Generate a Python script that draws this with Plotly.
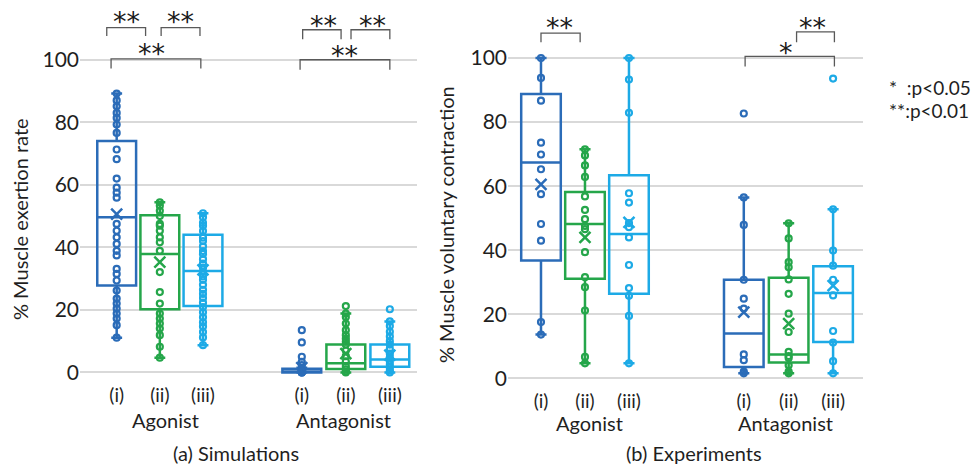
import plotly.graph_objects as go

# ---------------- data ----------------
sub_labels = ["(i)", "(ii)", "(iii)", "(i)", "(ii)", "(iii)"]
group_labels = ["Agonist", "Antagonist"]
sim_pos = [0, 1, 2, 4.29, 5.31, 6.33]
exp_pos = [0, 1, 2, 4.61, 5.63, 6.64]

# (a) Simulations - individual values
sim_ago_i = [89.2, 87.0, 85.1, 83.0, 81.4, 79.3, 76.6, 71.3, 68.2, 62.0, 59.1, 57.5, 55.9,
             47.5, 45.3, 43.2, 41.1, 38.9, 37.4, 33.1, 31.5, 29.4, 26.2, 23.6, 22.0, 20.4,
             18.8, 17.2, 15.1, 11.1]
sim_ago_ii = [54.4, 53.3, 51.7, 50.0, 47.5, 46.9, 45.3, 43.2, 41.6, 38.9, 32.1, 25.7, 22.0,
              18.8, 17.2, 15.6, 14.0, 11.9, 8.2, 4.7]
sim_ago_iii = [50.9, 49.6, 47.8, 46.9, 45.2, 43.1, 42.0, 40.3, 38.8, 37.9, 36.2, 34.8, 33.5,
               32.1, 30.7, 29.6, 28.0, 26.4, 25.1, 23.8, 22.3, 20.9, 19.2, 17.6, 16.0, 14.7,
               12.9, 11.2, 8.7]
sim_ant_i = [13.5, 9.6, 5.0, 3.4, 2.3, 1.2, 0.6, 0.0, 0.0, 0.0]
sim_ant_ii = [21.2, 18.8, 17.7, 15.6, 13.5, 11.9, 10.8, 9.8, 8.9, 7.0, 5.2, 3.5, 2.0, 1.0, 0.3, 0.0]
sim_ant_iii = [20.2, 16.3, 14.8, 13.0, 11.5, 10.0, 8.9, 7.5, 6.0, 4.8, 3.6, 2.5, 1.5, 0.6, 0.0]

# (a) Simulations - box statistics
sim_low = [11.1, 4.7, 8.7, 0.0, 0.0, 0.0]
sim_q1 = [27.8, 20.2, 21.2, 0.0, 1.1, 1.8]
sim_median = [49.6, 37.9, 32.4, 0.3, 2.9, 4.1]
sim_q3 = [74.0, 50.3, 44.0, 1.2, 8.9, 8.9]
sim_high = [89.2, 54.4, 50.9, 1.5, 18.8, 16.3]
sim_mean = [50.6, 35.3, 32.8, 1.5, 6.0, 5.5]

# (b) Experiments - individual values
exp_ago_i = [100.0, 93.8, 86.7, 73.6, 69.9, 65.3, 57.5, 48.2, 43.0, 17.6, 13.7]
exp_ago_ii = [71.5, 69.6, 66.5, 62.9, 56.8, 52.6, 49.7, 47.6, 46.6, 39.4, 31.6, 28.5, 21.2, 6.7, 4.7]
exp_ago_iii = [100.0, 93.3, 82.9, 57.8, 54.9, 48.5, 47.2, 44.0, 35.4, 28.2, 25.8, 19.5, 4.7]
exp_ant_i = [82.7, 56.5, 47.9, 30.8, 24.9, 21.8, 7.5, 5.7, 2.1, 1.6]
exp_ant_ii = [48.4, 43.7, 36.3, 34.7, 30.9, 26.4, 20.2, 14.5, 8.3, 7.0, 6.4, 4.1, 2.1, 1.6]
exp_ant_iii = [93.6, 52.8, 39.9, 35.2, 30.8, 25.9, 14.8, 11.2, 5.4, 1.6]

# (b) Experiments - box statistics
exp_low = [13.7, 4.7, 4.7, 1.6, 1.6, 1.6]
exp_q1 = [36.8, 31.1, 26.4, 3.6, 5.0, 11.4]
exp_median = [67.4, 48.2, 45.1, 14.0, 7.5, 26.7]
exp_q3 = [88.8, 58.2, 63.4, 30.8, 31.4, 35.0]
exp_high = [100.0, 71.5, 100.0, 56.5, 48.4, 52.8]
exp_mean = [60.6, 44.0, 48.7, 20.7, 17.1, 29.0]

y_ticks = [0, 20, 40, 60, 80, 100]

# ---------------- styling ----------------
colors = ["#2B6CB8", "#25A64A", "#1DAAE6"]
FONT = "Lato"
TXT = "#1f1f1f"
W, H = 979, 469
BW = 0.9

fig = go.Figure()


def add_panel(positions, series, low, q1, med, q3, high, mean, xa, ya):
    for k, pos in enumerate(positions):
        c = colors[k % 3]
        fig.add_trace(go.Box(
            x=[pos], q1=[q1[k]], median=[med[k]], q3=[q3[k]],
            lowerfence=[low[k]], upperfence=[high[k]],
            width=BW, whiskerwidth=0.28, boxpoints=False,
            line=dict(color=c, width=2.5), fillcolor="rgba(0,0,0,0)",
            xaxis=xa, yaxis=ya, showlegend=False, hoverinfo="skip"))
        pts = series[k]
        fig.add_trace(go.Scatter(
            x=[pos] * len(pts), y=pts, mode="markers",
            marker=dict(symbol="circle-open", size=6, color=c, line=dict(width=2.2)),
            xaxis=xa, yaxis=ya, showlegend=False, hoverinfo="skip"))
        fig.add_trace(go.Scatter(
            x=[pos], y=[mean[k]], mode="markers",
            marker=dict(symbol="x-thin", size=11, color=c, line=dict(width=2.5, color=c)),
            xaxis=xa, yaxis=ya, showlegend=False, hoverinfo="skip"))


add_panel(sim_pos, [sim_ago_i, sim_ago_ii, sim_ago_iii, sim_ant_i, sim_ant_ii, sim_ant_iii],
          sim_low, sim_q1, sim_median, sim_q3, sim_high, sim_mean, "x", "y")
add_panel(exp_pos, [exp_ago_i, exp_ago_ii, exp_ago_iii, exp_ant_i, exp_ant_ii, exp_ant_iii],
          exp_low, exp_q1, exp_median, exp_q3, exp_high, exp_mean, "x2", "y2")

axis_common = dict(showgrid=False, zeroline=False, showline=False, ticks="",
                   tickfont=dict(family=FONT, size=19, color=TXT))
yaxis_common = dict(showgrid=True, gridcolor="#d9d9d9", gridwidth=1.5, zeroline=False,
                    showline=False, ticks="", tickvals=y_ticks,
                    tickfont=dict(family=FONT, size=21, color=TXT))

fig.update_layout(
    width=W, height=H, margin=dict(l=0, r=0, t=0, b=0),
    paper_bgcolor="white", plot_bgcolor="white",
    xaxis=dict(domain=[80 / W, 416.6 / W], range=[-0.85, 6.95],
               tickvals=sim_pos, ticktext=sub_labels, **axis_common),
    yaxis=dict(domain=[1 - 383.4 / H, 1 - 3.5 / H], range=[-3, 118], **yaxis_common),
    xaxis2=dict(domain=[508 / W, 863 / W], range=[-0.75, 7.32],
                tickvals=exp_pos, ticktext=sub_labels, anchor="y2", **axis_common),
    yaxis2=dict(domain=[1 - 389.7 / H, 1 - 0.4 / H], range=[-3, 118], anchor="x2",
                **yaxis_common),
)

# significance brackets: (xref, yref, x0, x1, y_top, y_leg, text, tx, ty)
brackets = [
    ("x", "y", -0.23, 0.67, 110.3, 107.6, "**", 0.22, 112.3),
    ("x", "y", 1.03, 1.93, 110.3, 107.6, "**", 1.47, 112.3),
    ("x", "y", -0.13, 1.95, 100.3, 97.2, "**", 0.81, 101.9),
    ("x", "y", 4.31, 5.20, 109.6, 106.6, "**", 4.79, 110.9),
    ("x", "y", 5.43, 6.33, 109.6, 106.6, "**", 5.92, 110.9),
    ("x", "y", 4.25, 6.33, 100.0, 96.8, "**", 5.27, 101.3),
    ("x2", "y2", 0.0, 0.89, 107.8, 104.9, "**", 0.43, 109.5),
    ("x2", "y2", 5.81, 6.67, 108.2, 104.9, "**", 6.18, 109.4),
    ("x2", "y2", 4.64, 6.67, 100.5, 97.4, "*", 5.58, 101.8),
]
for xr, yr, x0, x1, yt, yl, txt, tx, ty in brackets:
    fig.add_shape(type="path", xref=xr, yref=yr,
                  path=f"M {x0},{yl} L {x0},{yt} L {x1},{yt} L {x1},{yl}",
                  line=dict(color="#595959", width=1.3))
    fig.add_annotation(x=tx, y=ty, xref=xr, yref=yr, text=txt, showarrow=False,
                       font=dict(family="DejaVu Sans", size=27, color="#1a1a1a"),
                       xanchor="center", yanchor="middle")

# group labels
for xr, xs, yp in (("x", [1.12, 5.25], 422), ("x2", [1.11, 5.55], 425)):
    for g, xv in zip(group_labels, xs):
        fig.add_annotation(x=xv, y=1 - yp / H, xref=xr, yref="paper", text=g,
                           showarrow=False, xanchor="center", yanchor="middle",
                           font=dict(family=FONT, size=20, color=TXT))

# panel captions
fig.add_annotation(x=236 / W, y=1 - 455 / H, xref="paper", yref="paper",
                   text="(a) Simulations", showarrow=False, xanchor="center",
                   yanchor="middle", font=dict(family=FONT, size=20, color=TXT))
fig.add_annotation(x=694 / W, y=1 - 455 / H, xref="paper", yref="paper",
                   text="(b) Experiments", showarrow=False, xanchor="center",
                   yanchor="middle", font=dict(family=FONT, size=20, color=TXT))

# y axis titles
fig.add_annotation(x=20 / W, y=1 - 220 / H, xref="paper", yref="paper",
                   text="% Muscle exertion rate", textangle=-90, showarrow=False,
                   xanchor="center", yanchor="middle",
                   font=dict(family=FONT, size=20, color=TXT))
fig.add_annotation(x=446 / W, y=1 - 226 / H, xref="paper", yref="paper",
                   text="% Muscle voluntary contraction", textangle=-90, showarrow=False,
                   xanchor="center", yanchor="middle",
                   font=dict(family=FONT, size=20, color=TXT))

# significance legend
fig.add_annotation(x=887 / W, y=1 - 88 / H, xref="paper", yref="paper",
                   text="*  :p<0.05", showarrow=False, xanchor="left", yanchor="middle",
                   font=dict(family=FONT, size=19, color=TXT))
fig.add_annotation(x=887 / W, y=1 - 111 / H, xref="paper", yref="paper",
                   text="**:p<0.01", showarrow=False, xanchor="left", yanchor="middle",
                   font=dict(family=FONT, size=19, color=TXT))

fig.write_html(
    "out.html",
    config={"displayModeBar": False},
    post_script="document.body.style.margin='0';document.body.style.padding='0';",
)
